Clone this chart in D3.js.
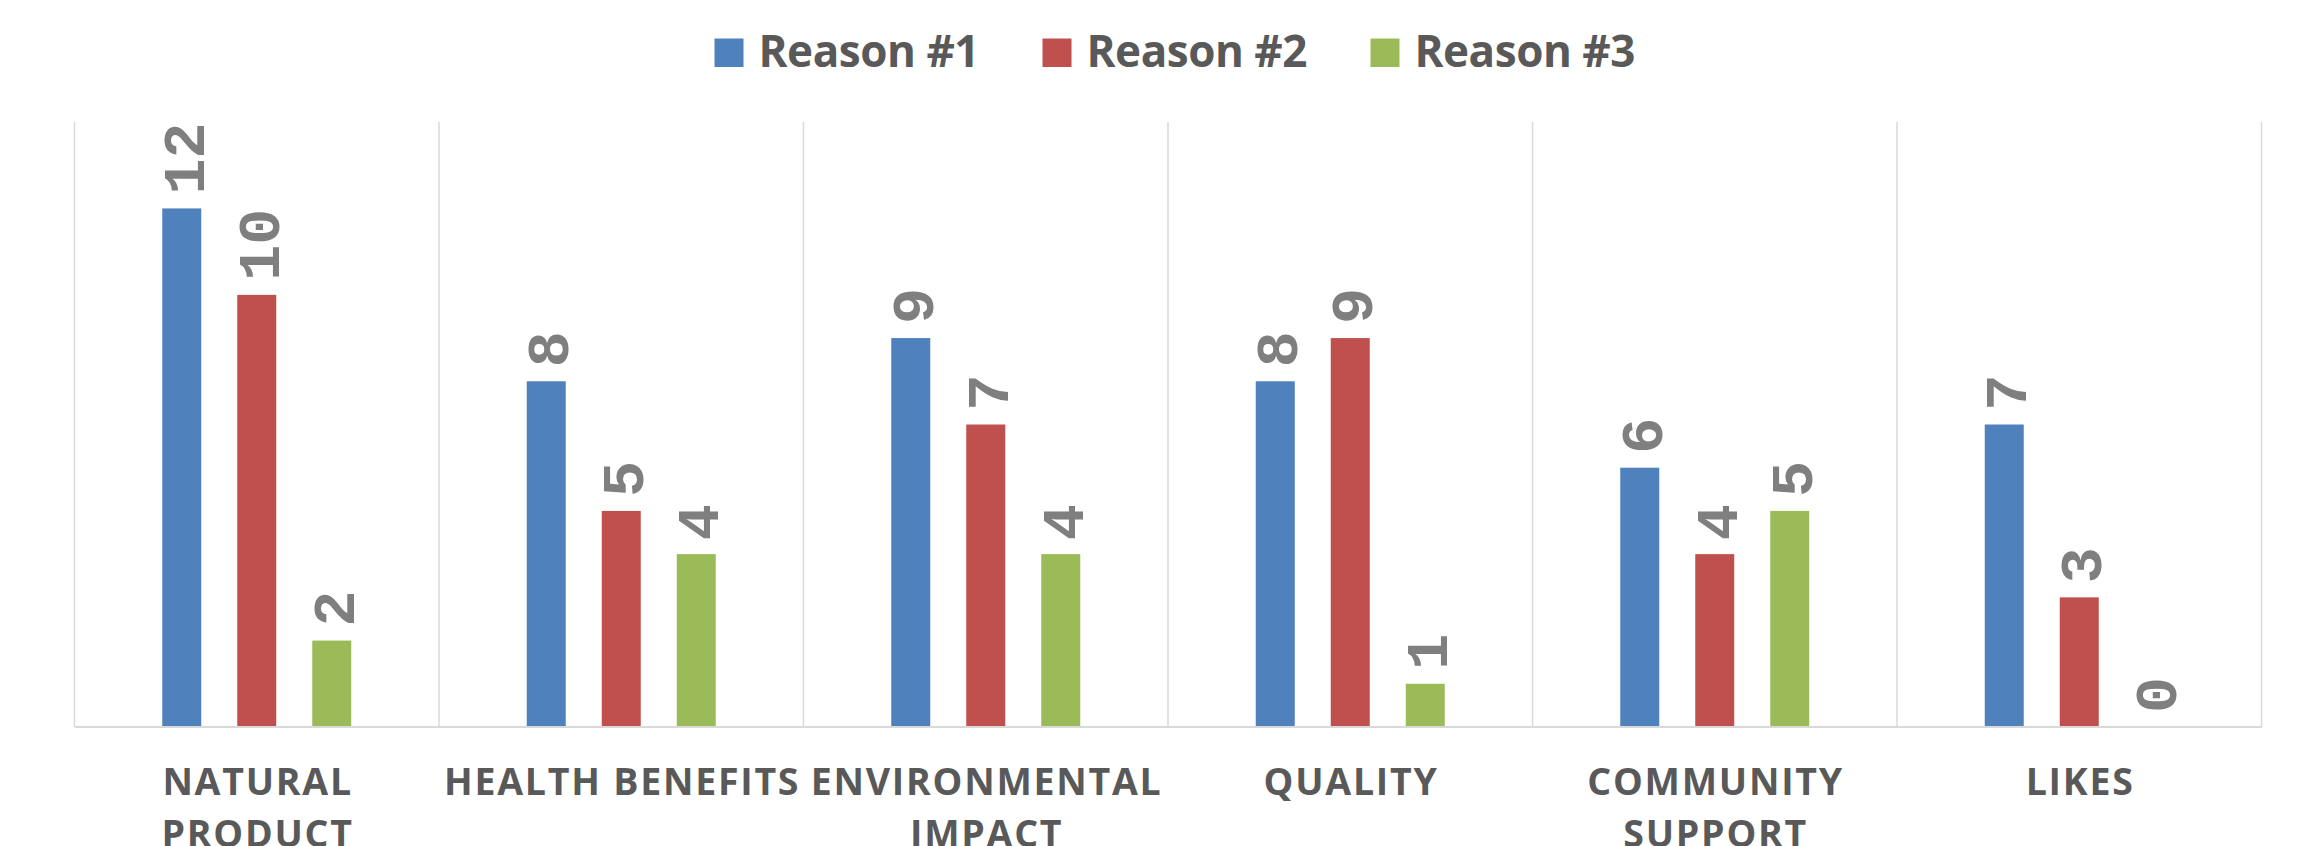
<!DOCTYPE html>
<html>
<head>
<meta charset="utf-8">
<script src="https://cdn.jsdelivr.net/npm/d3@7"></script>
<style>
  html, body { margin: 0; padding: 0; background: #ffffff; }
  svg { display: block; }
</style>
</head>
<body>
<svg id="chart" width="2297" height="846"></svg>
<script>
// ---- data ----
const categories = ["NATURAL PRODUCT", "HEALTH BENEFITS", "ENVIRONMENTAL IMPACT", "QUALITY", "COMMUNITY SUPPORT", "LIKES"];
const seriesNames = ["Reason #1", "Reason #2", "Reason #3"];
const reason1 = [12, 8, 9, 8, 6, 7];
const reason2 = [10, 5, 7, 9, 4, 3];
const reason3 = [2, 4, 4, 1, 5, 0];
const seriesColors = ["#4F81BD", "#C0504D", "#9BBB59"];
const yDomain = [0, 14];

const seriesValues = [reason1, reason2, reason3];
const W = 2297, H = 846;
const plot = { left: 74.5, right: 2261.5, top: 122, bottom: 727 };

const svg = d3.select("#chart");

const x0 = d3.scaleBand().domain(categories).range([plot.left, plot.right]).paddingInner(0).paddingOuter(0);
const x1 = d3.scaleBand().domain(seriesNames).range([0, x0.bandwidth()]).paddingInner(0.48).paddingOuter(1.17);
const y = d3.scaleLinear().domain(yDomain).range([plot.bottom, plot.top]);
const color = d3.scaleOrdinal().domain(seriesNames).range(seriesColors);

// vertical gridlines at category boundaries
const bounds = categories.map(c => x0(c)).concat([x0(categories[categories.length - 1]) + x0.bandwidth()]);
svg.append("g").attr("class", "grid")
  .selectAll("line").data(bounds).join("line")
  .attr("x1", d => d).attr("x2", d => d)
  .attr("y1", y(yDomain[1])).attr("y2", y(0))
  .attr("stroke", "#d9d9d9").attr("stroke-width", 1.5);

// bars
const rows = [];
categories.forEach((c, i) => seriesNames.forEach((s, j) => rows.push({ c, s, v: seriesValues[j][i] })));

svg.append("g").attr("class", "bars")
  .selectAll("rect").data(rows).join("rect")
  .attr("x", d => x0(d.c) + x1(d.s))
  .attr("width", x1.bandwidth())
  .attr("y", d => y(d.v))
  .attr("height", d => y(0) - y(d.v))
  .attr("fill", d => color(d.s));

// value labels (rotated)
svg.append("g").attr("class", "labels")
  .selectAll("text").data(rows).join("text")
  .attr("transform", d => `translate(${x0(d.c) + x1(d.s) + x1.bandwidth() / 2},${y(d.v) - 14}) rotate(-90)`)
  .attr("dy", "0.37em")
  .attr("text-anchor", "start")
  .attr("font-family", "'Liberation Mono', monospace")
  .attr("font-weight", "bold")
  .attr("font-size", 60)
  .attr("fill", "#7f7f7f")
  .text(d => d.v);

// category axis
const axis = svg.append("g").attr("class", "x-axis")
  .attr("transform", `translate(0,${plot.bottom - 0.5})`)
  .call(d3.axisBottom(x0).tickSizeInner(0).tickSizeOuter(0).tickPadding(0));
axis.select(".domain").attr("stroke", "#d9d9d9").attr("stroke-width", 2);
axis.selectAll(".tick line").remove();

const catFont = "'Open Sans', sans-serif";
const catSize = 37.5;
axis.selectAll(".tick text")
  .attr("font-family", catFont)
  .attr("font-weight", "bold")
  .attr("font-size", catSize)
  .attr("fill", "#595959")
  .attr("y", 0).attr("dy", null);

// calibrate letter spacing using a measuring text
function measure(str, family, size, ls) {
  const t = svg.append("text").attr("font-family", family).attr("font-weight", "bold")
    .attr("font-size", size).attr("letter-spacing", ls).text(str);
  const w = t.node().getComputedTextLength();
  t.remove();
  return w;
}
const refStr = "HEALTH BENEFITS";
const w0 = measure(refStr, catFont, catSize, 0);
const catLS = (354.5 - w0) / (refStr.length - 1);

axis.selectAll(".tick text").each(function (d) {
  const t = d3.select(this);
  t.attr("letter-spacing", catLS);
  const words = d.split(" ");
  const lines = [];
  let cur = "";
  words.forEach(wd => {
    const test = cur ? cur + " " + wd : wd;
    if (cur && measure(test, catFont, catSize, catLS) - catLS > x0.bandwidth()) {
      lines.push(cur); cur = wd;
    } else cur = test;
  });
  if (cur) lines.push(cur);
  t.text(null);
  lines.forEach((ln, k) => {
    t.append("tspan").attr("x", catLS / 2).attr("y", 68 + k * 52).text(ln);
  });
});

// legend
const legFont = "'Open Sans', sans-serif";
const legSize = 44;
const lw0 = measure("Reason #1", legFont, legSize, 0);
const legLS = (221 - lw0) / 8;
const sq = 29, gapText = 15, itemGap = 63;
const textWs = seriesNames.map(s => measure(s, legFont, legSize, legLS) - legLS);
const itemWs = textWs.map(tw => sq + gapText + tw);
const totalW = d3.sum(itemWs) + itemGap * (seriesNames.length - 1);
let lx = 1175 - totalW / 2;
const legend = svg.append("g").attr("class", "legend");
seriesNames.forEach((s, i) => {
  const g = legend.append("g").attr("transform", `translate(${lx},0)`);
  g.append("rect").attr("x", 0).attr("y", 38.5).attr("width", sq).attr("height", 28.5).attr("fill", color(s));
  g.append("text").attr("x", sq + gapText).attr("y", 67)
    .attr("font-family", legFont).attr("font-weight", "bold").attr("font-size", legSize)
    .attr("letter-spacing", legLS).attr("fill", "#595959").text(s);
  lx += itemWs[i] + itemGap;
});
</script>
</body>
</html>
